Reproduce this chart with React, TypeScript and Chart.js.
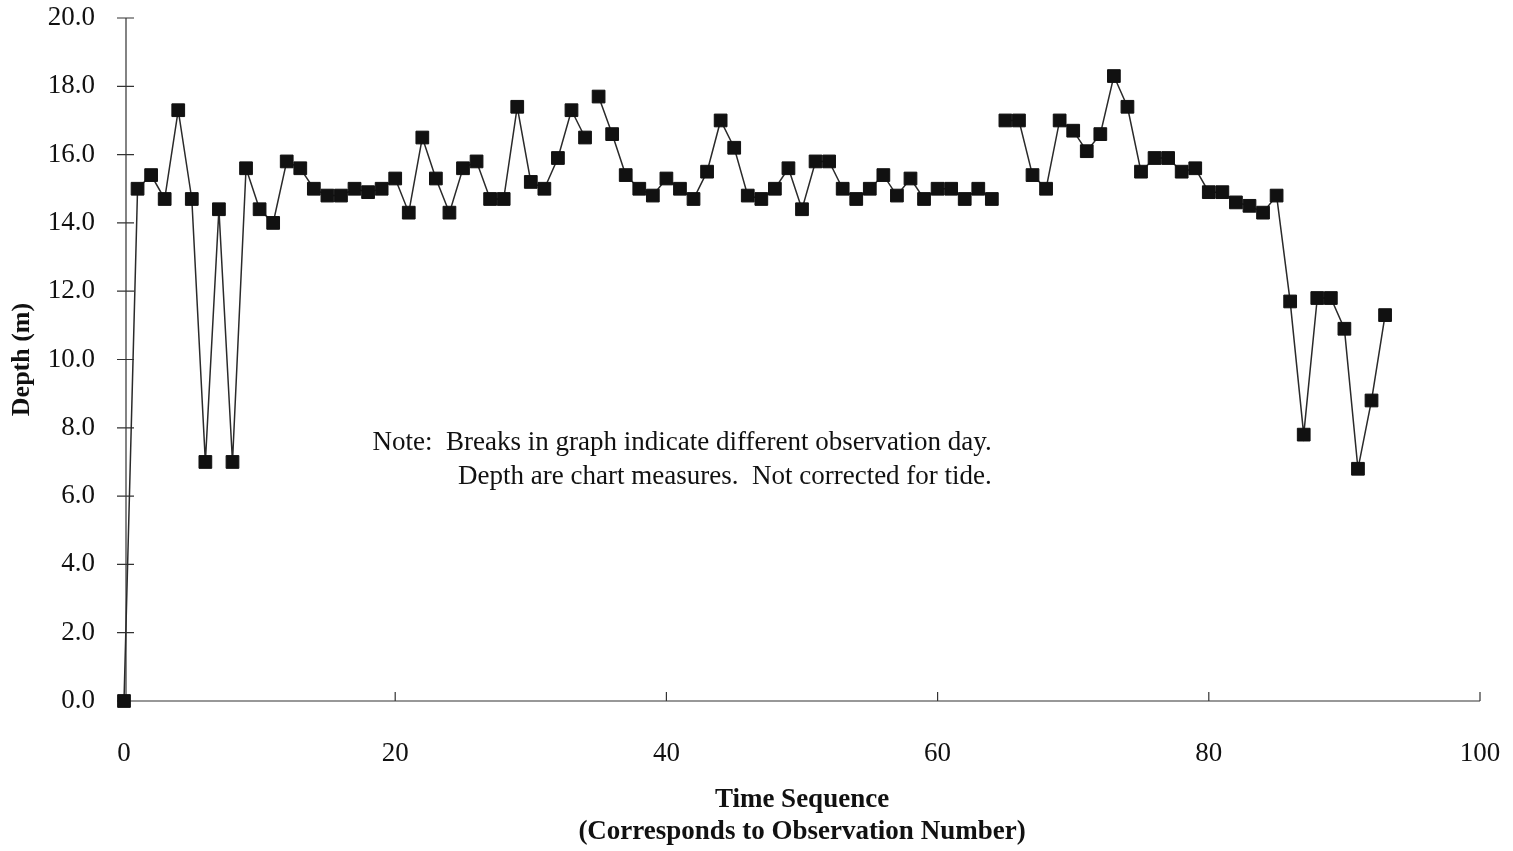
import React, { useEffect, useRef } from "react";
import { Chart, registerables } from "chart.js";

Chart.register(...registerables);

// ---- data ----
const observation = [
  0, 1, 2, 3, 4, 5, 6, 7, 8, 9, 10, 11, 12, 13, 14, 15, 16, 17, 18, 19,
  20, 21, 22, 23, 24, 25, 26, 27, 28, 29, 30, 31, 32, 33, 34, 35, 36, 37, 38, 39,
  40, 41, 42, 43, 44, 45, 46, 47, 48, 49, 50, 51, 52, 53, 54, 55, 56, 57, 58, 59,
  60, 61, 62, 63, 64, 65, 66, 67, 68, 69, 70, 71, 72, 73, 74, 75, 76, 77, 78, 79,
  80, 81, 82, 83, 84, 85, 86, 87, 88, 89, 90, 91, 92, 93,
];

const depth = [
  0.0, 15.0, 15.4, 14.7, 17.3, 14.7, 7.0, 14.4, 7.0, 15.6,
  14.4, 14.0, 15.8, 15.6, 15.0, 14.8, 14.8, 15.0, 14.9, 15.0,
  15.3, 14.3, 16.5, 15.3, 14.3, 15.6, 15.8, 14.7, 14.7, 17.4,
  15.2, 15.0, 15.9, 17.3, 16.5, 17.7, 16.6, 15.4, 15.0, 14.8,
  15.3, 15.0, 14.7, 15.5, 17.0, 16.2, 14.8, 14.7, 15.0, 15.6,
  14.4, 15.8, 15.8, 15.0, 14.7, 15.0, 15.4, 14.8, 15.3, 14.7,
  15.0, 15.0, 14.7, 15.0, 14.7, 17.0, 17.0, 15.4, 15.0, 17.0,
  16.7, 16.1, 16.6, 18.3, 17.4, 15.5, 15.9, 15.9, 15.5, 15.6,
  14.9, 14.9, 14.6, 14.5, 14.3, 14.8, 11.7, 7.8, 11.8, 11.8,
  10.9, 6.8, 8.8, 11.3,
];

// observation index after which a new observation day starts (no connecting line)
const dayBreakAfter = [34, 64];

const xTickValues = [0, 20, 40, 60, 80, 100];
const yTickValues = [0, 2, 4, 6, 8, 10, 12, 14, 16, 18, 20];

const xTitle = ["Time Sequence", "(Corresponds to Observation Number)"];
const yTitle = "Depth (m)";
const noteLines = [
  "Note:  Breaks in graph indicate different observation day.",
  "Depth are chart measures.  Not corrected for tide.",
];
// note anchor (right edge) in data units
const noteAnchorX = 64.0;
const noteLineY = [7.55, 6.55];

const FONT = "'Liberation Serif', 'Times New Roman', Times, serif";
const INK = "#111";
const LINE = "#2a2a2a";

const axesPlugin = {
  id: "customAxes",
  beforeDatasetsDraw(chart: any) {
    const { ctx, chartArea, scales } = chart;
    const { left, right, bottom } = chartArea;
    const xs = scales.x;
    const ys = scales.y;
    ctx.save();
    ctx.strokeStyle = "#333";
    ctx.lineWidth = 1.2;
    ctx.beginPath();
    // y axis
    ctx.moveTo(left + 2, ys.getPixelForValue(20));
    ctx.lineTo(left + 2, bottom);
    // x axis
    ctx.moveTo(left, bottom);
    ctx.lineTo(right, bottom);
    // y ticks (crossing)
    yTickValues.forEach((v) => {
      const py = ys.getPixelForValue(v);
      ctx.moveTo(left - 7, py);
      ctx.lineTo(left + 10, py);
    });
    // x ticks (inside)
    xTickValues.forEach((v) => {
      if (v === 0) return;
      const px = xs.getPixelForValue(v);
      ctx.moveTo(px, bottom);
      ctx.lineTo(px, bottom - 9);
    });
    ctx.stroke();
    ctx.restore();
  },
  afterDraw(chart: any) {
    const { ctx, scales } = chart;
    const xs = scales.x;
    const ys = scales.y;
    ctx.save();
    ctx.fillStyle = INK;
    ctx.font = `27px ${FONT}`;
    ctx.textAlign = "right";
    ctx.textBaseline = "middle";
    noteLines.forEach((t, i) => {
      ctx.fillText(t, xs.getPixelForValue(noteAnchorX), ys.getPixelForValue(noteLineY[i]));
    });
    ctx.restore();
  },
};

export default function App() {
  const canvasRef = useRef<HTMLCanvasElement | null>(null);

  useEffect(() => {
    if (!canvasRef.current) return;
    const chart = new Chart(canvasRef.current, {
      type: "line",
      data: {
        datasets: [
          {
            label: "Depth",
            data: observation.map((x, i) => ({ x, y: depth[i] })),
            borderColor: LINE,
            borderWidth: 1.5,
            backgroundColor: INK,
            pointStyle: "rect",
            pointRadius: 9,
            pointBorderWidth: 1,
            pointBorderColor: INK,
            pointBackgroundColor: INK,
            tension: 0,
            fill: false,
            clip: false,
            segment: {
              borderColor: (c: any) =>
                dayBreakAfter.includes(c.p0DataIndex) ? "rgba(0,0,0,0)" : LINE,
            },
          },
        ],
      },
      options: {
        animation: false,
        responsive: true,
        maintainAspectRatio: false,
        layout: { padding: { left: 0, top: 18, right: 33, bottom: 0 } },
        plugins: {
          legend: { display: false },
          tooltip: { enabled: false },
        },
        scales: {
          x: {
            type: "linear",
            min: 0,
            max: 100,
            afterBuildTicks: (s: any) => {
              s.ticks = xTickValues.map((v) => ({ value: v }));
            },
            afterFit: (s: any) => {
              s.height = 150;
              s.paddingLeft = 0;
              s.paddingRight = 0;
            },
            grid: { display: false, drawTicks: false },
            border: { display: false },
            ticks: {
              padding: 37,
              color: INK,
              maxRotation: 0,
              autoSkip: false,
              font: { family: FONT, size: 27 },
            },
            title: {
              display: true,
              text: xTitle,
              color: INK,
              font: { family: FONT, size: 27, weight: "bold", lineHeight: 1.22 },
              padding: { top: 0, bottom: 2 },
            },
          },
          y: {
            type: "linear",
            min: 0,
            max: 20,
            afterBuildTicks: (s: any) => {
              s.ticks = yTickValues.map((v) => ({ value: v }));
            },
            afterFit: (s: any) => {
              s.width = 124;
              s.paddingTop = 0;
              s.paddingBottom = 0;
            },
            grid: { display: false, drawTicks: false },
            border: { display: false },
            ticks: {
              padding: 29,
              color: INK,
              autoSkip: false,
              font: { family: FONT, size: 27 },
              callback: (v: any) => Number(v).toFixed(1),
            },
            title: {
              display: true,
              text: yTitle,
              color: INK,
              font: { family: FONT, size: 26, weight: "bold", lineHeight: 1.0 },
              padding: { top: 9, bottom: 0 },
            },
          },
        },
      },
      plugins: [axesPlugin],
    });
    return () => chart.destroy();
  }, []);

  return (
    <div
      style={{
        position: "fixed",
        left: 0,
        top: 0,
        width: 1513,
        height: 851,
        background: "#fff",
      }}
    >
      <canvas ref={canvasRef} />
    </div>
  );
}
